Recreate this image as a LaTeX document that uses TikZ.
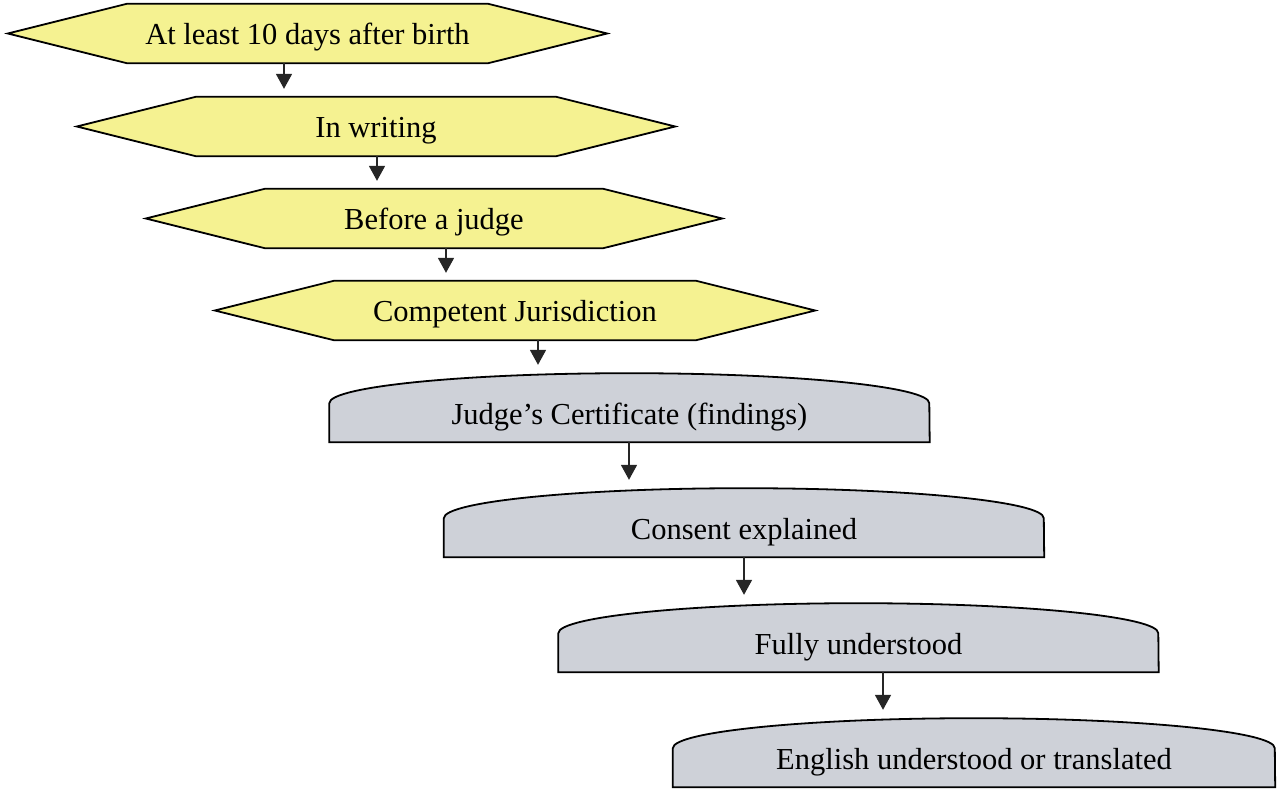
\documentclass[tikz,border=0pt]{standalone}
\usepackage{fontspec}
\setmainfont{Liberation Serif}
\usepackage{tikz}
\usetikzlibrary{arrows.meta,backgrounds}
\definecolor{hexyellow}{RGB}{245,242,145}
\definecolor{capgray}{RGB}{206,209,216}
\tikzstyle{hexstep}=[inner sep=0pt,minimum width=599pt,minimum height=59pt,
                     text height=21pt,text depth=0pt]
\tikzstyle{capstep}=[inner sep=0pt,minimum width=600pt,minimum height=69pt,
                     text height=33pt,text depth=0pt]
\tikzstyle{hexbox}=[draw=black,fill=hexyellow,line width=1.8pt,line join=miter]
\tikzstyle{capbox}=[draw=black,fill=capgray,line width=1.8pt]
\tikzstyle{flow}=[draw=black!85,line width=1.8pt,
                  -{Triangle[width=16pt,length=15pt]},shorten >=8pt]

\begin{document}
\begin{tikzpicture}[x=1pt,y=-1pt,font=\fontsize{30.5}{36}\selectfont]
    \useasboundingbox (0,0) rectangle (1278,788);
    \newcommand{\cut}{119pt}
    % yellow steps
    \node (h1) at (307.5, 33.5) [hexstep]{At least 10 days after birth};
    \node (h2) at (376, 126.5) [hexstep,minimum width=598pt]{In writing};
    \node (h3) at (434, 218.5) [hexstep,minimum width=576pt]{Before a judge};
    \node (h4) at (515, 310.5) [hexstep,minimum width=600pt]{Competent Jurisdiction};
    % grey steps
    \node (g1) at (629.5, 407.5) [capstep]{Judge’s Certificate (findings)};
    \node (g2) at (744, 522.5) [capstep]{Consent explained};
    \node (g3) at (858.5, 637.5) [capstep]{Fully understood};
    \node (g4) at (974, 752.5) [capstep,minimum width=602pt]{English understood or translated};
    \begin{pgfonlayer}{background}
      \foreach \n in {h1,h2,h3,h4}
        \draw[hexbox] (\n.west) -- ([xshift=\cut]\n.north west)
          -- ([xshift=-\cut]\n.north east) -- (\n.east)
          -- ([xshift=-\cut]\n.south east) -- ([xshift=\cut]\n.south west) -- cycle;
      \foreach \n/\r in {g1/300,g2/300,g3/300,g4/301}
        \draw[capbox] (\n.south west) -- ([yshift=39pt]\n.south west)
          arc[start angle=180,end angle=0,x radius=\r pt,y radius=30pt]
          -- (\n.south east) -- cycle;
    \end{pgfonlayer}
    % arrows
    \foreach \a/\b/\dx in {h1/h2/-23.5,h2/h3/1,h3/h4/12,h4/g1/23,
                           g1/g2/-0.5,g2/g3/0,g3/g4/24.5}
      \draw[flow] ([xshift=\dx pt]\a.south) -- ([xshift=\dx pt]\a.south |- \b.north);
  \end{tikzpicture}
\end{document}
